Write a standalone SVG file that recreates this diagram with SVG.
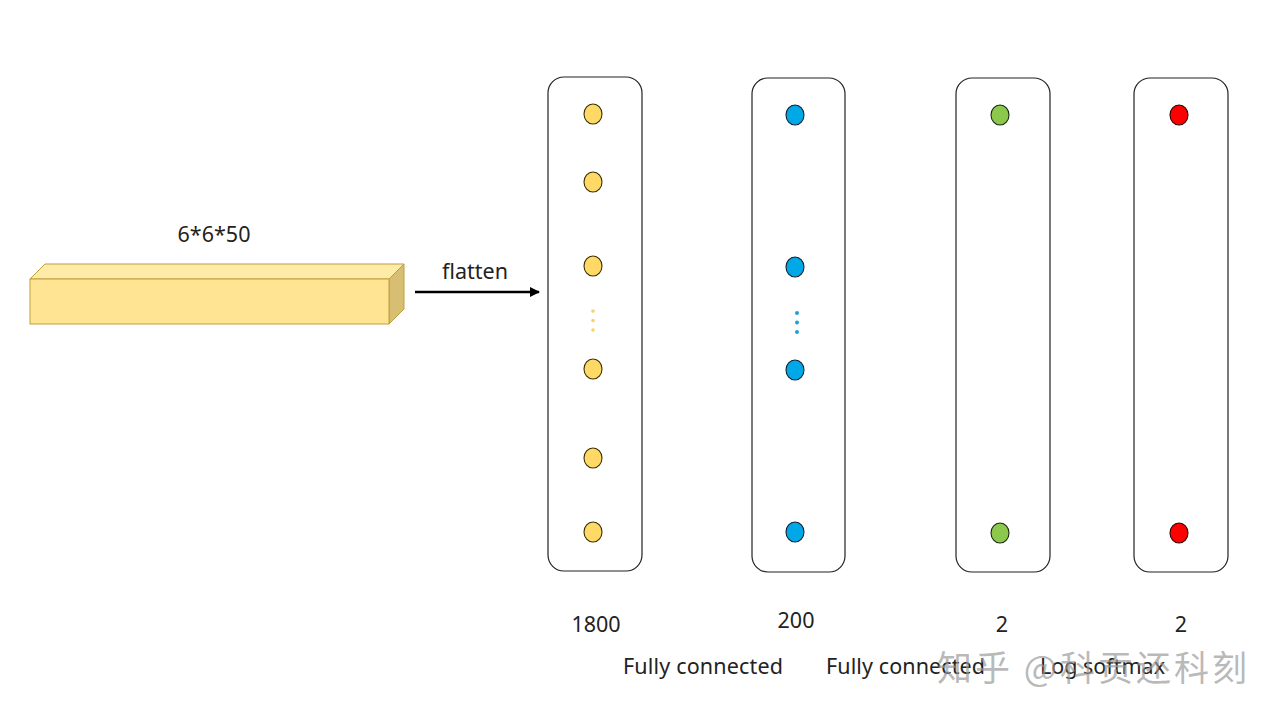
<svg xmlns="http://www.w3.org/2000/svg" width="1280" height="720" viewBox="0 0 1280 720">
<defs>
<style>
.t{font-family:"Noto Sans","Liberation Sans",sans-serif;font-size:21.5px;fill:#222;}
.col{fill:#fff;stroke:#222;stroke-width:1.2;}
.y{fill:#FFD966;stroke:#3a3000;stroke-width:1.1;}
.b{fill:#00A8E8;stroke:#102030;stroke-width:1.1;}
.g{fill:#8CC84B;stroke:#1a2a10;stroke-width:1.1;}
.r{fill:#FF0000;stroke:#300;stroke-width:1.1;}
.wm{font-family:"Noto Sans CJK SC","Noto Sans",sans-serif;font-size:35px;letter-spacing:3px;fill:#9a9a9a;fill-opacity:0.7;}
</style>
<marker id="ah" viewBox="0 0 10 10" refX="9" refY="5" markerWidth="4" markerHeight="4" orient="auto"><path d="M0,0 L10,5 L0,10 z" fill="#000"/></marker>
</defs>
<rect width="1280" height="720" fill="#fff"/>
<g id="tensor">
<polygon points="30,279 45,264 404,264 389,279" fill="#FFEBA8" stroke="#BF9F3A" stroke-width="1"/>
<polygon points="389,279 404,264 404,309 389,324" fill="#D7BE73" stroke="#BF9F3A" stroke-width="1"/>
<rect x="30" y="279" width="359" height="45" fill="#FFE593" stroke="#BF9F3A" stroke-width="1"/>
<text class="t" x="214" y="242" text-anchor="middle">6*6*50</text>
</g>
<g id="connectors">
<line x1="415" y1="292" x2="539" y2="292" stroke="#000" stroke-width="2.5" marker-end="url(#ah)"/>
<text class="t" x="475" y="279" text-anchor="middle">flatten</text>
</g>
<g id="layer1800">
<rect class="col" x="548" y="77" width="94" height="494" rx="16"/>
<ellipse class="y" cx="593" cy="114" rx="9" ry="10"/>
<ellipse class="y" cx="593" cy="182" rx="9" ry="10"/>
<ellipse class="y" cx="593" cy="266" rx="9" ry="10"/>
<ellipse class="y" cx="593" cy="369" rx="9" ry="10"/>
<ellipse class="y" cx="593" cy="458" rx="9" ry="10"/>
<ellipse class="y" cx="593" cy="532" rx="9" ry="10"/>
<circle cx="593" cy="311" r="1.8" fill="#F5D36A"/>
<circle cx="593" cy="320.5" r="1.8" fill="#F5D36A"/>
<circle cx="593" cy="330" r="1.8" fill="#F5D36A"/>
<text class="t" x="596" y="632" text-anchor="middle">1800</text>
</g>
<g id="layer200">
<rect class="col" x="752" y="78" width="93" height="494" rx="16"/>
<ellipse class="b" cx="795" cy="115" rx="9" ry="10"/>
<ellipse class="b" cx="795" cy="267" rx="9" ry="10"/>
<ellipse class="b" cx="795" cy="370" rx="9" ry="10"/>
<ellipse class="b" cx="795" cy="532" rx="9" ry="10"/>
<circle cx="797" cy="313" r="2" fill="#1E9FD8"/>
<circle cx="797" cy="322.5" r="2" fill="#1E9FD8"/>
<circle cx="797" cy="332" r="2" fill="#1E9FD8"/>
<text class="t" x="796" y="628" text-anchor="middle">200</text>
</g>
<g id="layer2a">
<rect class="col" x="956" y="78" width="94" height="494" rx="16"/>
<ellipse class="g" cx="1000" cy="115" rx="9" ry="10"/>
<ellipse class="g" cx="1000" cy="533" rx="9" ry="10"/>
<text class="t" x="1002" y="632" text-anchor="middle">2</text>
</g>
<g id="layer2b">
<rect class="col" x="1134" y="78" width="94" height="494" rx="16"/>
<ellipse class="r" cx="1179" cy="115" rx="9" ry="10"/>
<ellipse class="r" cx="1179" cy="533" rx="9" ry="10"/>
<text class="t" x="1181" y="632" text-anchor="middle">2</text>
</g>
<g id="captions">
<text class="t" x="623" y="674" textLength="160">Fully connected</text>
<text class="t" x="826" y="674" textLength="159">Fully connected</text>
<text class="t" x="1040" y="674" textLength="125">Log softmax</text>
</g>
<text class="wm" x="937" y="681">知乎 @科贡还科刻</text>
</svg>
